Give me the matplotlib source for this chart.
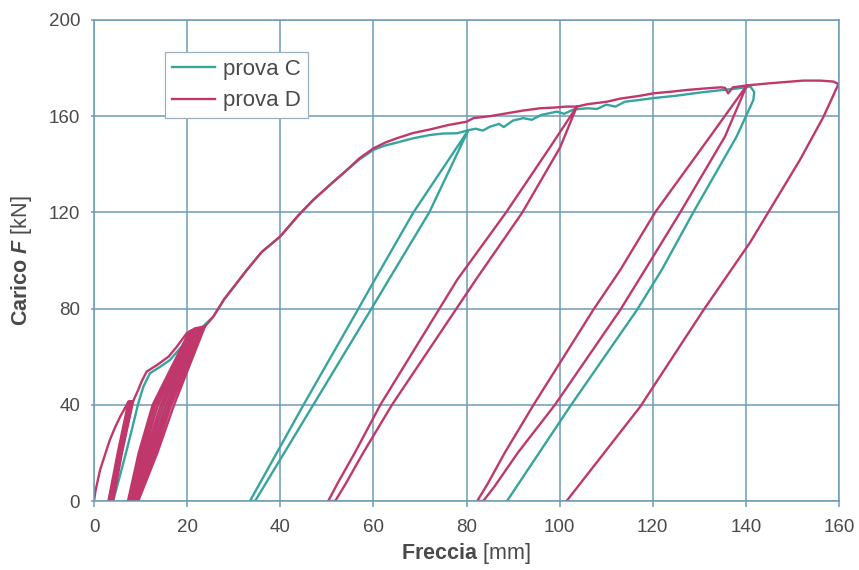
import matplotlib
matplotlib.use("Agg")
import matplotlib.pyplot as plt
import numpy as np

# ---- data (x = Freccia [mm], y = Carico F [kN]) ----

# prova C
c_start_x = [4.1, 5.5, 7.0, 8.3, 9.5, 10.6, 12.0, 14.2, 16.3, 18.5, 20.6, 22.4, 23.8]
c_start_f = [0, 10, 21, 31, 40.6, 47.5, 53.1, 55.8, 58.6, 63.5, 68.3, 70.4, 72.5]
# small cycle hidden under the D band near 20 mm
c_band_x = [15.4, 12.0, 8.6, 9.1, 12.8, 16.3, 23.2]
c_band_f = [40, 20, 0, 0, 20, 40, 72.2]
c_env1_x = [25.6, 28, 32.8, 36, 40, 44, 47.1, 51, 54.3, 57, 60, 62.5, 65, 68.5, 72.2, 75, 78, 80.4]
c_env1_f = [76.6, 84, 96, 103.5, 110, 119, 125.2, 132, 137.6, 142, 146, 147.8, 149, 150.8, 152.2, 152.8, 152.9, 154.2]
c_cyc1_down_x = [80.4, 72.0, 63.3, 59.6, 47.1, 34.6]
c_cyc1_down_f = [154.2, 120, 92, 80, 40, 0]
c_cyc1_up_x = [33.5, 45.0, 56.8, 60.3, 68.6, 80.4]
c_cyc1_up_f = [0, 40, 80, 92, 120, 154.2]
c_env2_x = [82, 83.5, 85, 87, 88, 90, 92.2, 94, 96, 99.4, 101, 103, 106, 108, 110, 112, 114,
            117.3, 120, 125, 130, 134.5, 138, 141.0]
c_env2_f = [154.8, 154.0, 155.6, 156.8, 155.5, 158.2, 159.2, 158.5, 160.5, 161.9, 161.0, 162.8,
            163.3, 163.0, 164.8, 164.0, 166.0, 166.8, 167.5, 168.5, 169.8, 170.8, 171.5, 172.3]
c_cyc2_down_x = [141.8, 141.6, 138.0, 128.7, 121.9, 116.6, 102.2, 88.7]
c_cyc2_down_f = [170.0, 166.7, 151.5, 120, 96, 79.4, 39.2, 0]

# prova D
d_start_x = [0, 0.3, 1.3, 2.4, 3.4, 4.5, 5.6, 6.6, 7.4, 8.4]
d_start_f = [0, 4, 12.9, 19.5, 25.4, 30.5, 35, 38.5, 41.3, 41.5]
# repeated cycles near 40 kN (down / up, side by side)
d_band1_x = [6.0, 4.1, 3.9, 5.82, 8.2, 8.0, 5.64, 3.7, 3.5, 5.46, 7.8, 7.6, 5.28, 3.3, 3.1, 5.1, 7.4, 8.4]
d_band1_f = [20, 0, 0, 20, 41.3, 41.3, 20, 0, 0, 20, 41.2, 41.2, 20, 0, 0, 20, 41.2, 41.5]
d_env1_x = [9.5, 10.2, 11.3, 13.5, 16.0, 17.8, 19.9, 21.7, 23.6]
d_env1_f = [46.2, 49.6, 53.8, 56.5, 60, 64.2, 69.7, 71.8, 72.5]
# repeated cycles near 70 kN (down / up, side by side)
d_band2_x = [23.8, 17.2, 13.6, 9.5, 9.23, 13.1, 16.6, 23.4,
             23.0, 16.05, 12.6, 8.95, 8.7, 12.1, 15.5, 22.55,
             22.15, 14.9, 11.6, 8.4, 8.15, 11.1, 14.35, 21.75,
             21.35, 13.75, 10.6, 7.85, 7.6, 10.1, 13.2, 20.9,
             20.5, 12.6, 9.6, 7.3, 7.45, 9.85, 12.9, 20.7, 23.8]
d_band2_f = [72.5, 40, 20, 0, 0, 20, 40, 72.25,
             72.0, 40, 20, 0, 0, 20, 40, 71.75,
             71.5, 40, 20, 0, 0, 20, 40, 71.25,
             71.0, 40, 20, 0, 0, 20, 40, 70.75,
             70.5, 40, 20, 0, 0, 20, 40, 70.6, 72.5]
d_env2_x = [25.6, 28, 32.8, 36, 40, 44, 47.1, 51, 54.3, 57, 60, 62.5, 65, 68.5, 72.2, 76, 80,
            81.5, 85, 88.6, 92, 95.8, 99, 101.5, 103.7]
d_env2_f = [76.6, 84, 96, 103.5, 110, 119, 125.2, 132, 137.6, 142.5, 146.6, 149, 150.8, 153,
            154.5, 156.3, 157.7, 159.2, 160, 161.2, 162.3, 163.3, 163.6, 164, 164]
d_cyc1_down_x = [103.7, 100.1, 92.0, 82.0, 64.0, 57.8, 54.0, 51.8]
d_cyc1_down_f = [164, 147, 120, 92, 40, 20, 7, 0]
d_cyc1_up_x = [50.3, 52.5, 56.0, 61.5, 78.0, 88.5, 97.9, 103.7]
d_cyc1_up_f = [0, 8, 20, 40, 92, 120, 147, 164]
d_env3_x = [106, 110.1, 113, 117.3, 120.1, 124, 127.3, 131, 134.5, 135.5, 136.2, 137.2, 140.2]
d_env3_f = [165, 166, 167.3, 168.5, 169.5, 170.2, 170.9, 171.5, 172, 171.8, 169.5, 172.0, 172.8]
d_cyc2_down_x = [140.2, 135.5, 125.9, 118.3, 113.0, 99.0, 91.0, 86.0, 83.6]
d_cyc2_down_f = [172.8, 151.5, 120, 96, 79.4, 40, 20, 6, 0]
d_cyc2_up_x = [82.3, 84.5, 88.2, 94.4, 107.2, 113.0, 120.5, 132.3, 140.2]
d_cyc2_up_f = [0, 7, 20, 40, 79.4, 96, 120, 151.5, 172.8]
d_env4_x = [145.2, 149, 152.3, 156, 158.8, 159.9]
d_env4_f = [173.7, 174.3, 174.8, 174.8, 174.4, 173.4]
d_cyc3_down_x = [156.6, 151.6, 140.9, 130.9, 117.3, 101.5]
d_cyc3_down_f = [159.5, 141.8, 107.5, 79.4, 39.2, 0]

x_ticks = [0, 20, 40, 60, 80, 100, 120, 140, 160]
y_ticks = [0, 40, 80, 120, 160, 200]

c_x = np.concatenate([c_start_x, c_band_x, c_env1_x, c_cyc1_down_x, c_cyc1_up_x, c_env2_x, c_cyc2_down_x])
c_f = np.concatenate([c_start_f, c_band_f, c_env1_f, c_cyc1_down_f, c_cyc1_up_f, c_env2_f, c_cyc2_down_f])
d_x = np.concatenate([d_start_x, d_band1_x, d_env1_x, d_band2_x, d_env2_x, d_cyc1_down_x, d_cyc1_up_x,
                      d_env3_x, d_cyc2_down_x, d_cyc2_up_x, d_env4_x, d_cyc3_down_x])
d_f = np.concatenate([d_start_f, d_band1_f, d_env1_f, d_band2_f, d_env2_f, d_cyc1_down_f, d_cyc1_up_f,
                      d_env3_f, d_cyc2_down_f, d_cyc2_up_f, d_env4_f, d_cyc3_down_f])

plt.rcParams['font.family'] = ['Liberation Sans', 'DejaVu Sans']
plt.rcParams['mathtext.fontset'] = 'custom'
plt.rcParams['mathtext.rm'] = 'Liberation Sans'
plt.rcParams['mathtext.bf'] = 'Liberation Sans:bold'
plt.rcParams['mathtext.it'] = 'Liberation Sans:italic'
plt.rcParams['mathtext.bfit'] = 'Liberation Sans:bold:italic'

grid_col = '#6e9cb5'
text_col = '#4a4a4a'
teal = '#36a59d'
magenta = '#c0386b'

fig = plt.figure(figsize=(8.59, 5.7), dpi=100)
ax = fig.add_axes([94 / 859, 1 - 501 / 570, 745 / 859, 481 / 570])

ax.plot(c_x, c_f, color=teal, lw=1.7, label='prova C', solid_joinstyle='round')
ax.plot(d_x, d_f, color=magenta, lw=1.7, label='prova D', solid_joinstyle='round')

ax.set_xlim(0, 160)
ax.set_ylim(0, 200)
ax.set_xticks(x_ticks)
ax.set_yticks(y_ticks)
ax.grid(True, color=grid_col, lw=1.1)
ax.set_axisbelow(True)
for s in ax.spines.values():
    s.set_color(grid_col)
    s.set_linewidth(1.1)
ax.tick_params(axis='x', length=4.3, width=1.1, color=grid_col, pad=8.5,
               labelsize=13.5, labelcolor=text_col)
ax.tick_params(axis='y', length=2, width=1.1, color=grid_col, pad=8,
               labelsize=13.5, labelcolor=text_col)

fig.text(466 / 859, 1 - 553 / 570, r'$\mathbf{Freccia}$ [mm]', ha='center', va='center',
         fontsize=15.5, color=text_col)
fig.text(22 / 859, 1 - 261 / 570, r'$\mathbf{Carico}$ $\mathbfit{F}$ [kN]', ha='center', va='center',
         rotation=90, fontsize=15.5, color=text_col)

leg = ax.legend(loc='upper left', bbox_to_anchor=(0.0953, 0.9335), borderaxespad=0,
                fontsize=16, handlelength=1.95, handletextpad=0.36, borderpad=0.3,
                labelspacing=0.48, fancybox=False, framealpha=1)
leg.get_frame().set_edgecolor('#9ab0bd')
leg.get_frame().set_linewidth(0.9)
for t in leg.get_texts():
    t.set_color(text_col)

fig.savefig('out.png', dpi=100)
